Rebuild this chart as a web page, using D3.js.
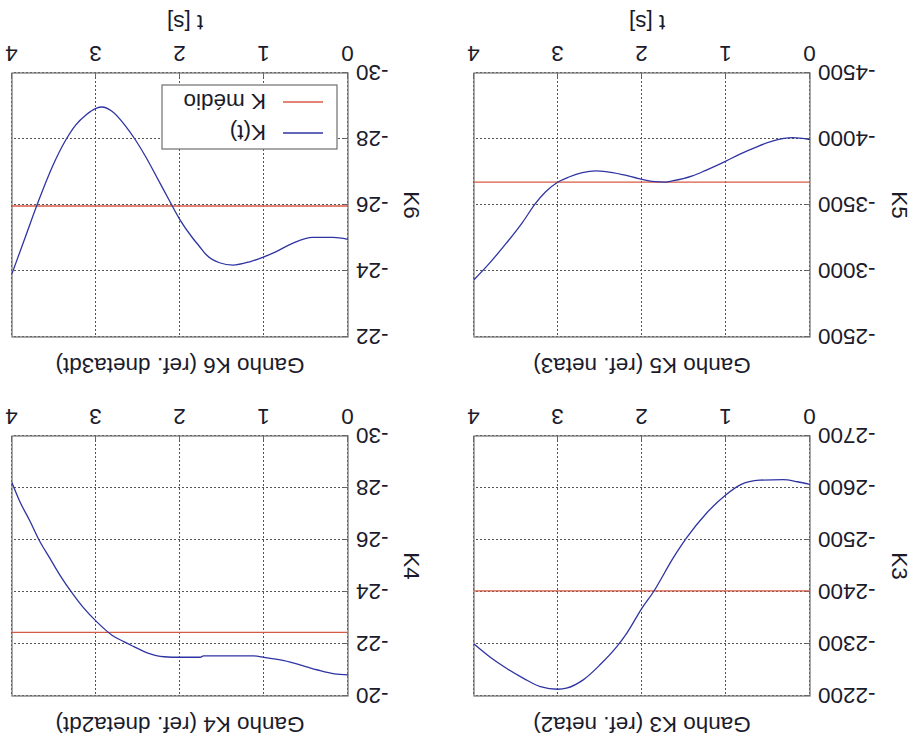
<!DOCTYPE html>
<html>
<head>
<meta charset="utf-8">
<script src="https://cdn.jsdelivr.net/npm/d3@7"></script>
<style>
  html, body { margin: 0; padding: 0; background: #fff; }
  svg { display: block; }
  text { font-family: "Liberation Sans", Arial, Helvetica, sans-serif; fill: #1b1b2c; }
</style>
</head>
<body>
<svg id="chart" width="914" height="740"></svg>
<script>
// Gain schedules K3..K6 over time (s), with their mean values
const k3Time = [0, 0.15, 0.32, 0.6, 0.83, 1.0, 1.23, 1.47, 1.63, 1.865, 2.0, 2.18, 2.3, 2.5, 2.7, 2.9, 3.0, 3.21, 3.41, 3.61, 3.81, 4.0];
const k3Gain = [-2607, -2612, -2616, -2615, -2606, -2587, -2552, -2504, -2465, -2400, -2369, -2321, -2295, -2260, -2231, -2215, -2213, -2218, -2234, -2253, -2275, -2300];
const k3Mean = -2402;

const k4Time = [0, 0.16, 0.36, 0.56, 0.76, 1.0, 1.12, 1.36, 1.72, 1.76, 2.0, 2.19, 2.39, 2.55, 2.67, 2.81, 2.99, 3.15, 3.27, 3.43, 3.55, 3.67, 3.79, 3.91, 4.0];
const k4Gain = [-20.81, -20.85, -21.0, -21.19, -21.36, -21.49, -21.54, -21.54, -21.54, -21.49, -21.49, -21.51, -21.66, -21.9, -22.09, -22.34, -22.85, -23.4, -23.9, -24.65, -25.3, -25.95, -26.75, -27.5, -28.2];
const k4Mean = -22.45;

const k5Time = [0, 0.21, 0.44, 0.64, 0.84, 1.0, 1.24, 1.4, 1.64, 1.72, 1.88, 2.04, 2.23, 2.43, 2.55, 2.71, 2.87, 3.0, 3.15, 3.27, 3.42, 3.62, 3.82, 4.0];
const k5Gain = [-3995, -4010, -3985, -3939, -3884, -3833, -3763, -3720, -3682, -3674, -3679, -3700, -3730, -3753, -3758, -3745, -3712, -3674, -3598, -3510, -3371, -3207, -3056, -2934];
const k5Mean = -3674;

const k6Time = [0, 0.18, 0.42, 0.66, 0.86, 1.0, 1.17, 1.37, 1.53, 1.69, 1.77, 1.85, 2.0, 2.13, 2.29, 2.41, 2.53, 2.65, 2.81, 2.93, 3.0, 3.12, 3.24, 3.36, 3.52, 3.68, 3.84, 4.0];
const k6Gain = [-24.96, -25.02, -25.02, -24.84, -24.58, -24.43, -24.28, -24.18, -24.25, -24.5, -24.75, -25.0, -25.55, -26.15, -26.91, -27.47, -27.97, -28.4, -28.84, -28.97, -28.93, -28.73, -28.43, -27.97, -27.16, -26.15, -25.04, -23.92];
const k6Mean = -25.97;

// Axis ticks
const timeTicks = [0, 1, 2, 3, 4];
const k3Ticks = [-2700, -2600, -2500, -2400, -2300, -2200];
const k4Ticks = [-30, -28, -26, -24, -22, -20];
const k5Ticks = [-4500, -4000, -3500, -3000, -2500];
const k6Ticks = [-30, -28, -26, -24, -22];

// Text
const titles = ["Ganho K3 (ref.  neta2)", "Ganho K4 (ref.  dneta2dt)", "Ganho K5 (ref.  neta3)", "Ganho K6 (ref.  dneta3dt)"];
const yLabels = ["K3", "K4", "K5", "K6"];
const xLabel = "t [s]";
const legendLabels = ["K(t)", "K médio"];

const BLUE = "#2f34a3";
const RED = "#d85a44";
const FONT = 22.5;
const plainNumber = d => String(d);

const svg = d3.select("#chart");
svg.append("rect").attr("width", 914).attr("height", 740).attr("fill", "#fff");

// The figure is presented turned half a revolution
const root = svg.append("g").attr("transform", "rotate(180 457 370)");

const panels = [
  { time: k3Time, gain: k3Gain, mean: k3Mean, ticks: k3Ticks, box: [104, 44, 440, 304], title: titles[0], ylab: yLabels[0], ylabX: 22, xlab: false, legend: false },
  { time: k4Time, gain: k4Gain, mean: k4Mean, ticks: k4Ticks, box: [566, 44, 902, 304], title: titles[1], ylab: yLabels[1], ylabX: 510, xlab: false, legend: false },
  { time: k5Time, gain: k5Gain, mean: k5Mean, ticks: k5Ticks, box: [104, 403, 440, 667], title: titles[2], ylab: yLabels[2], ylabX: 22, xlab: true, legend: false },
  { time: k6Time, gain: k6Gain, mean: k6Mean, ticks: k6Ticks, box: [566, 403, 902, 667], title: titles[3], ylab: yLabels[3], ylabX: 510, xlab: true, legend: true }
];

panels.forEach(p => {
  const [x0, y0, x1, y1] = p.box;
  const w = x1 - x0, h = y1 - y0;
  const g = root.append("g").attr("transform", `translate(${x0},${y0})`);

  const x = d3.scaleLinear().domain([0, 4]).range([0, w]);
  const y = d3.scaleLinear().domain(d3.extent(p.ticks)).range([h, 0]);

  // dotted grid
  g.append("g").attr("class", "grid")
    .call(d3.axisLeft(y).tickValues(p.ticks).tickSize(-w).tickFormat(""))
    .call(s => s.select(".domain").remove())
    .call(s => s.selectAll("line").attr("stroke", "#555").attr("stroke-dasharray", "2,2").attr("stroke-width", 1));
  g.append("g").attr("class", "grid").attr("transform", `translate(0,${h})`)
    .call(d3.axisBottom(x).tickValues(timeTicks).tickSize(-h).tickFormat(""))
    .call(s => s.select(".domain").remove())
    .call(s => s.selectAll("line").attr("stroke", "#555").attr("stroke-dasharray", "2,2").attr("stroke-width", 1));

  // axes with labels
  g.append("g")
    .call(d3.axisLeft(y).tickValues(p.ticks).tickSize(-4).tickPadding(8).tickFormat(plainNumber))
    .call(s => s.select(".domain").remove())
    .call(s => s.selectAll("line").attr("stroke", "#666"))
    .call(s => s.selectAll("text").attr("font-size", FONT).attr("font-family", null).attr("fill", "#1b1b2c"));
  g.append("g").attr("transform", `translate(0,${h})`)
    .call(d3.axisBottom(x).tickValues(timeTicks).tickSize(-4).tickPadding(0).tickFormat(plainNumber))
    .call(s => s.select(".domain").remove())
    .call(s => s.selectAll("line").attr("stroke", "#666"))
    .call(s => s.selectAll("text").attr("font-size", FONT).attr("font-family", null).attr("fill", "#1b1b2c")
      .attr("dy", null).attr("y", 27).attr("dominant-baseline", "auto"));

  // frame
  g.append("rect").attr("width", w).attr("height", h)
    .attr("fill", "none").attr("stroke", "#6e6e6e").attr("stroke-width", 1.2);

  // mean gain
  g.append("line")
    .attr("x1", x(0)).attr("x2", x(4))
    .attr("y1", y(p.mean)).attr("y2", y(p.mean))
    .attr("stroke", RED).attr("stroke-width", 1.3);

  // time-varying gain
  const line = d3.line().x((d, i) => x(p.time[i])).y(d => y(d)).curve(d3.curveMonotoneX);
  g.append("path").datum(p.gain).attr("d", line)
    .attr("fill", "none").attr("stroke", BLUE).attr("stroke-width", 1.3);

  // title
  root.append("text").attr("x", x0 + w / 2).attr("y", y0 - 21)
    .attr("text-anchor", "middle").attr("font-size", FONT).text(p.title);

  // y label
  root.append("text")
    .attr("transform", `translate(${p.ylabX},${y0 + h / 2}) rotate(-90)`)
    .attr("text-anchor", "middle").attr("font-size", FONT).text(p.ylab);

  if (p.xlab) {
    root.append("text").attr("x", x0 + w / 2 - 5).attr("y", y1 + 58)
      .attr("text-anchor", "middle").attr("font-size", FONT).text(xLabel);
  }

  if (p.legend) {
    const lg = g.append("g").attr("transform", `translate(11,${h - 76})`);
    lg.append("rect").attr("width", 175).attr("height", 64)
      .attr("fill", "#fff").attr("stroke", "#6e6e6e").attr("stroke-width", 1.2);
    const colors = [BLUE, RED];
    legendLabels.forEach((lab, i) => {
      const cy = 16 + i * 31;
      lg.append("line").attr("x1", 14).attr("x2", 54).attr("y1", cy).attr("y2", cy)
        .attr("stroke", colors[i]).attr("stroke-width", 1.3);
      lg.append("text").attr("x", 71).attr("y", cy).attr("dy", "0.36em")
        .attr("font-size", FONT).text(lab);
    });
  }
});
</script>
</body>
</html>
